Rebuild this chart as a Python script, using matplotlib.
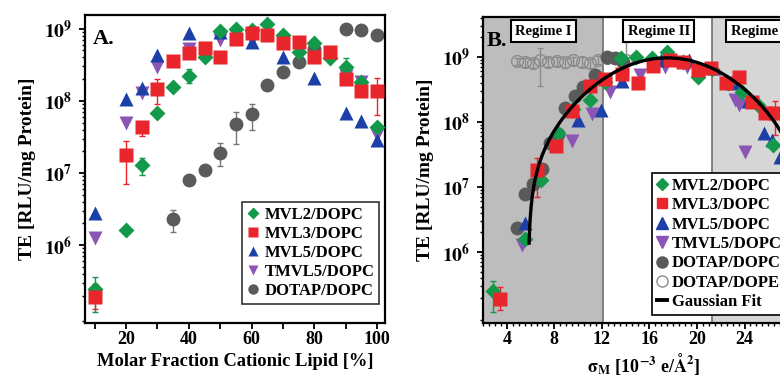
import numpy as np
import matplotlib
matplotlib.use('Agg')
import matplotlib.pyplot as plt
from matplotlib.ticker import FixedLocator, LogLocator, NullFormatter, MultipleLocator, FixedFormatter
from matplotlib.lines import Line2D

plt.rcParams['font.family'] = ['Liberation Serif', 'DejaVu Serif']
plt.rcParams['font.weight'] = 'bold'
plt.rcParams['mathtext.fontset'] = 'stix'

# ---- data ----
# molar fraction of cationic lipid [%] and transfection efficiency
phi_mvl2 = [10, 20, 25, 30, 35, 40, 45, 50, 55, 60, 65, 70, 75, 80, 85, 90, 95, 100]
te_mvl2 = [2.5e5, 1.6e6, 1.3e7, 6.8e7, 1.56e8, 2.2e8, 4.1e8, 9.4e8, 1.0e9, 9.5e8,
           1.17e9, 8.2e8, 4.8e8, 6.4e8, 3.9e8, 2.9e8, 1.8e8, 4.4e7]
sig_mvl2 = [2.8, 5.5, 6.9, 8.3, 9.6, 11.0, 12.3, 13.6, 14.9, 16.2, 17.5, 18.8, 20.1,
            21.3, 22.6, 23.8, 25.1, 26.4]

phi_mvl3 = [10, 20, 25, 30, 35, 40, 45, 50, 55, 60, 65, 70, 75, 80, 85, 90, 95, 100]
te_mvl3 = [1.9e5, 1.8e7, 4.3e7, 1.48e8, 3.6e8, 4.6e8, 5.4e8, 4.0e8, 7.3e8, 8.8e8,
           8.2e8, 6.3e8, 6.6e8, 4.0e8, 4.8e8, 2.0e8, 1.37e8, 1.35e8]
sig_mvl3 = [3.45, 6.55, 8.1, 9.5, 11.0, 12.3, 13.7, 15.0, 16.3, 17.7, 18.8, 20.1, 21.2,
            22.4, 23.5, 24.6, 25.7, 26.6]

phi_mvl5 = [10, 20, 25, 30, 40, 50, 60, 70, 80, 90, 95, 100]
te_mvl5 = [2.8e6, 1.07e8, 1.5e8, 4.3e8, 8.8e8, 9.0e8, 6.6e8, 4.0e8, 2.1e8, 6.8e7, 5.2e7, 2.9e7]
sig_mvl5 = [5.5, 10.0, 11.9, 13.7, 17.0, 19.3, 21.4, 23.0, 24.3, 25.6, 26.3, 27.0]

phi_tmvl5 = [10, 20, 25, 30, 40, 50, 60, 90, 95, 100]
te_tmvl5 = [1.26e6, 5.0e7, 1.3e8, 2.9e8, 5.3e8, 7.0e8, 7.0e8, 2.2e8, 1.8e8, 3.4e7]
sig_tmvl5 = [5.3, 9.5, 11.2, 12.7, 15.2, 17.3, 19.2, 23.2, 23.5, 24.0]

phi_dotap = [35, 40, 45, 50, 55, 60, 65, 70, 75, 80, 90, 95, 100]
te_dotap = [2.3e6, 7.9e6, 1.1e7, 1.9e7, 4.8e7, 6.6e7, 1.65e8, 2.5e8, 3.4e8, 5.2e8,
            1.0e9, 9.6e8, 8.2e8]
sig_dotap = [4.9, 5.55, 6.2, 7.0, 7.6, 8.3, 8.9, 9.7, 10.4, 11.4, 12.4, 13.1, 13.8]

sig_dope = [4.9, 5.5, 6.2, 6.8, 7.5, 8.2, 8.9, 9.6, 10.3, 11.0, 11.7, 12.4, 13.2, 14.0]
te_dope = [8.5e8, 8.2e8, 8.0e8, 8.8e8, 8.3e8, 8.6e8, 8.2e8, 8.8e8, 8.4e8, 8.0e8,
           9.0e8, 9.4e8, 9.6e8, 9.0e8]
dope_lo = [7.5e8, 7.0e8, 6.8e8, 3.5e8, 7.0e8, 7.3e8, 6.8e8, 7.5e8, 7.0e8, 6.8e8,
           7.8e8, 8.2e8, 8.4e8, 6.0e8]
dope_hi = [9.5e8, 9.5e8, 9.2e8, 1.37e9, 9.6e8, 1.0e9, 9.6e8, 1.0e9, 9.8e8, 9.3e8,
           1.03e9, 1.08e9, 1.1e9, 1.7e9]

# error bars (x, low, high)
err_mvl2_x = [10, 25, 40, 90]
err_mvl2_lo = [1.2e5, 9.5e6, 1.75e8, 2.3e8]
err_mvl2_hi = [3.6e5, 1.6e7, 2.8e8, 3.9e8]
err_mvl3_x = [10, 20, 25, 30, 100]
err_mvl3_lo = [1.3e5, 7.0e6, 3.3e7, 9.0e7, 6.3e7]
err_mvl3_hi = [2.9e5, 2.8e7, 4.6e7, 2.0e8, 2.1e8]
err_dotap_x = [35, 45, 50, 55, 60]
err_dotap_lo = [1.5e6, 9.5e6, 1.25e7, 2.5e7, 4.0e7]
err_dotap_hi = [3.1e6, 1.25e7, 2.6e7, 7.0e7, 9.0e7]

# Gaussian fit parameters (TE = base + amp*exp(-(s-s0)^2/(2 w^2)))
fit_s0, fit_w, fit_amp, fit_base = 17.5, 4.5, 9.94e8, -3.4e7

regime_edges = [12.1, 21.3]

# ---- styles ----
C_G, C_R, C_B, C_P, C_K = '#12994a', '#e8262b', '#1c3fa8', '#8a55b5', '#5a5a5a'

fig = plt.figure(figsize=(7.8, 3.83), dpi=100)
axA = fig.add_axes([85/780, 60/383, 300/780, 308/383])
axB = fig.add_axes([483/780, 60/383, 321/780, 306/383])


def errs(ax, x, lo, hi, xs, ys, color):
    lut = dict(zip(xs, ys))
    y = np.array([lut[v] for v in x])
    ax.errorbar(x, y, yerr=[y - np.array(lo), np.array(hi) - y], fmt='none',
                ecolor=color, elinewidth=1, capsize=2.5, capthick=1, zorder=1)


def draw_points(ax, xd, xm, x5, xp, xk):
    ax.plot(xk, te_dotap, 'o', color=C_K, ms=10, mec='none', label='DOTAP/DOPC', zorder=2)
    ax.plot(xp, te_tmvl5, 'v', color=C_P, ms=10.5, mec='none', label='TMVL5/DOPC', zorder=3)
    ax.plot(x5, te_mvl5, '^', color=C_B, ms=10.5, mec='none', label='MVL5/DOPC', zorder=4)
    ax.plot(xd, te_mvl2, 'D', color=C_G, ms=8.5, mec='none', label='MVL2/DOPC', zorder=5)
    ax.plot(xm, te_mvl3, 's', color=C_R, ms=9.5, mec='none', label='MVL3/DOPC', zorder=6)


def style_log(ax):
    ax.set_yscale('log')
    ax.yaxis.set_major_locator(FixedLocator([1e6, 1e7, 1e8, 1e9]))
    ax.yaxis.set_major_formatter(FixedFormatter([r'$\mathbf{10^{6}}$', r'$\mathbf{10^{7}}$',
                                                 r'$\mathbf{10^{8}}$', r'$\mathbf{10^{9}}$']))
    ax.yaxis.set_minor_locator(LogLocator(base=10, subs=np.arange(2, 10)))
    ax.yaxis.set_minor_formatter(NullFormatter())
    ax.tick_params(axis='both', which='major', direction='out', length=4, width=1.3,
                   labelsize=13, pad=2)
    ax.tick_params(axis='y', which='major', labelsize=14, pad=5)
    ax.tick_params(axis='both', which='minor', direction='out', length=2.5, width=1)
    for sp in ax.spines.values():
        sp.set_linewidth(1.6)
    ax.set_ylabel('TE [RLU/mg Protein]', fontsize=14, fontweight='bold', labelpad=6)


# ---- panel A ----
errs(axA, err_dotap_x, err_dotap_lo, err_dotap_hi, phi_dotap, te_dotap, '#777777')
errs(axA, err_mvl2_x, err_mvl2_lo, err_mvl2_hi, phi_mvl2, te_mvl2, C_G)
errs(axA, err_mvl3_x, err_mvl3_lo, err_mvl3_hi, phi_mvl3, te_mvl3, C_R)
draw_points(axA, phi_mvl2, phi_mvl3, phi_mvl5, phi_tmvl5, phi_dotap)

style_log(axA)
axA.set_xlim(6.9, 102.5)
axA.set_ylim(10**4.92, 10**9.19)
axA.xaxis.set_major_locator(FixedLocator(list(range(10, 101, 10))))
axA.xaxis.set_major_formatter(FixedFormatter(['', '20', '', '40', '', '60', '', '80', '', '100']))
axA.set_xlabel('Molar Fraction Cationic Lipid [%]', fontsize=13.3, fontweight='bold', labelpad=3)
axA.text(0.025, 0.955, 'A.', transform=axA.transAxes, fontsize=16, fontweight='bold',
         va='top', ha='left')
hA, lA = axA.get_legend_handles_labels()
orderA = ['MVL2/DOPC', 'MVL3/DOPC', 'MVL5/DOPC', 'TMVL5/DOPC', 'DOTAP/DOPC']
hA = [hA[lA.index(n)] for n in orderA]
legA = axA.legend(hA, orderA, loc='upper left', bbox_to_anchor=(242/780, 1 - 202/383),
                  bbox_transform=fig.transFigure, fontsize=12, numpoints=1, handlelength=0.7,
                  handletextpad=0.35, labelspacing=0.18, borderpad=0.3, borderaxespad=0,
                  frameon=True, fancybox=False, edgecolor='black', markerscale=0.75)
legA.get_frame().set_linewidth(1.2)

# ---- panel B ----
axB.axvspan(0, regime_edges[0], color='#bdbdbd', zorder=0, lw=0)
axB.axvspan(regime_edges[1], 40, color='#d6d6d6', zorder=0, lw=0)
for e in regime_edges:
    axB.axvline(e, color='#707070', lw=1.2, zorder=0.5)

axB.errorbar(sig_dope, te_dope, yerr=[np.array(te_dope) - np.array(dope_lo),
                                      np.array(dope_hi) - np.array(te_dope)],
             fmt='o', ms=8.5, mfc='none', mec='#8a8a8a', mew=1, ecolor='#8a8a8a',
             elinewidth=1, capsize=2.5, zorder=1)
axB.errorbar([sig_mvl2[0]], [te_mvl2[0]], yerr=[[te_mvl2[0] - 1.2e5], [3.6e5 - te_mvl2[0]]],
             fmt='none', ecolor=C_G, elinewidth=1, capsize=2.5, zorder=1)
errB_s = [sig_mvl3[0], sig_mvl3[1], sig_mvl3[-1]]
errB_y = np.array([te_mvl3[0], te_mvl3[1], te_mvl3[-1]])
axB.errorbar(errB_s, errB_y, yerr=[errB_y - np.array([1.3e5, 7.0e6, 6.3e7]),
                                   np.array([2.9e5, 2.8e7, 2.1e8]) - errB_y],
             fmt='none', ecolor=C_R, elinewidth=1, capsize=2.5, zorder=1)

draw_points(axB, sig_mvl2, sig_mvl3, sig_mvl5, sig_tmvl5, sig_dotap)

s = np.linspace(5.0, 30.0, 600)
fit = fit_base + fit_amp * np.exp(-(s - fit_s0) ** 2 / (2 * fit_w ** 2))
keep = fit >= 1e6
axB.plot(s[keep], fit[keep], color='black', lw=2.4, zorder=7)

style_log(axB)
axB.set_xlim(2.0, 29.0)
axB.set_ylim(10**4.91, 10**9.61)
axB.xaxis.set_major_locator(MultipleLocator(4))
axB.xaxis.set_minor_locator(MultipleLocator(0.5))
axB.set_xlabel(r'$\mathbf{\sigma_M}$ [10$^{\mathbf{-3}}$ e/$\mathbf{\AA^2}$]', fontsize=13,
               fontweight='bold', labelpad=2)
axB.text(0.012, 0.955, 'B.', transform=axB.transAxes, fontsize=16, fontweight='bold',
         va='top', ha='left', zorder=10)
box = dict(boxstyle='square,pad=0.3', fc='white', ec='black', lw=1.5)
for txt, xs in [('Regime I', 7.1), ('Regime II', 16.8), ('Regime III', 25.7)]:
    axB.text(xs, 10**9.39, txt, fontsize=10.5, fontweight='bold', ha='center', va='center',
             bbox=box, zorder=10)

hB = [Line2D([], [], ls='none', marker='D', color=C_G, ms=6.5),
      Line2D([], [], ls='none', marker='s', color=C_R, ms=7.5),
      Line2D([], [], ls='none', marker='^', color=C_B, ms=8),
      Line2D([], [], ls='none', marker='v', color=C_P, ms=8),
      Line2D([], [], ls='none', marker='o', color=C_K, ms=8),
      Line2D([], [], ls='none', marker='o', mfc='none', mec='#8a8a8a', ms=8),
      Line2D([], [], color='black', lw=2.8)]
lB = ['MVL2/DOPC', 'MVL3/DOPC', 'MVL5/DOPC', 'TMVL5/DOPC', 'DOTAP/DOPC', 'DOTAP/DOPE',
      'Gaussian Fit']
legB = axB.legend(hB, lB, loc='upper left', bbox_to_anchor=(652/780, 1 - 173/383),
                  bbox_transform=fig.transFigure, fontsize=12, numpoints=1, handlelength=0.6,
                  handletextpad=0.3, labelspacing=0.2, borderpad=0.3, borderaxespad=0,
                  frameon=True, fancybox=False, edgecolor='black', framealpha=1)
legB.get_frame().set_linewidth(1.2)
legB.set_zorder(20)

fig.savefig('out.png', dpi=100)
